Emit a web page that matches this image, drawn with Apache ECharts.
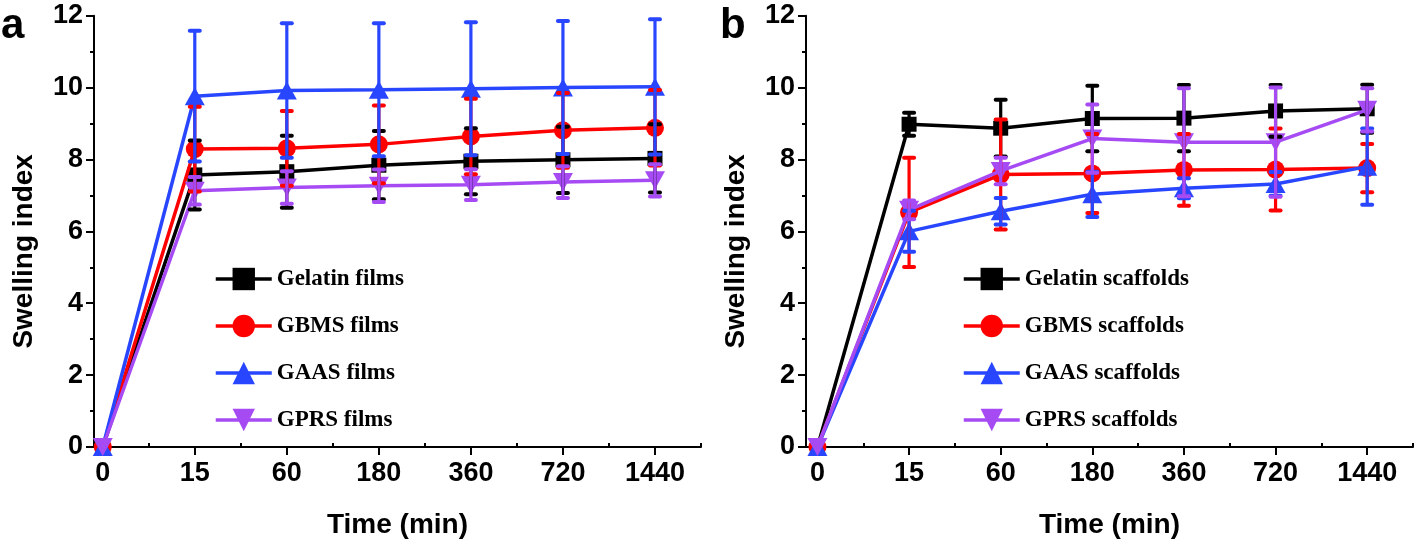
<!DOCTYPE html>
<html>
<head>
<meta charset="utf-8">
<script src="https://cdn.jsdelivr.net/npm/echarts@6/dist/echarts.min.js"></script>
<style>
html,body{margin:0;padding:0;background:#fff;}
#chart{width:1418px;height:544px;}
</style>
</head>
<body>
<div id="chart"></div>
<script>
// ---- data ----
const times = ['0', '15', '60', '180', '360', '720', '1440'];
const yTicks = [0, 2, 4, 6, 8, 10, 12];

const filmNames = ['Gelatin films', 'GBMS films', 'GAAS films', 'GPRS films'];
const gelatinFilms    = [0, 7.57, 7.66, 7.84, 7.95, 7.99, 8.03];
const gelatinFilmsErr = [0, 0.96, 1.00, 0.95, 0.92, 0.92, 0.95];
const gbmsFilms       = [0, 8.29, 8.31, 8.42, 8.64, 8.81, 8.88];
const gbmsFilmsErr    = [0, 1.18, 1.04, 1.08, 1.05, 1.04, 1.05];
const gaasFilms       = [0, 9.76, 9.92, 9.94, 9.97, 10.00, 10.02];
const gaasFilmsErr    = [0, 1.82, 1.87, 1.85, 1.85, 1.85, 1.88];
const gprsFilms       = [0, 7.13, 7.22, 7.27, 7.30, 7.37, 7.42];
const gprsFilmsErr    = [0, 0.38, 0.45, 0.45, 0.43, 0.44, 0.45];

const scaffoldNames = ['Gelatin scaffolds', 'GBMS scaffolds', 'GAAS scaffolds', 'GPRS scaffolds'];
const gelatinScaffolds    = [0, 8.98, 8.87, 9.14, 9.15, 9.35, 9.41];
const gelatinScaffoldsErr = [0, 0.32, 0.79, 0.91, 0.92, 0.72, 0.67];
const gbmsScaffolds       = [0, 6.53, 7.58, 7.61, 7.71, 7.72, 7.76];
const gbmsScaffoldsErr    = [0, 1.52, 1.53, 1.10, 1.00, 1.14, 0.67];
const gaasScaffolds       = [0, 6.00, 6.56, 7.03, 7.20, 7.32, 7.80];
const gaasScaffoldsErr    = [0, 0.57, 0.37, 0.63, 0.28, 0.33, 1.06];
const gprsScaffolds       = [0, 6.60, 7.68, 8.58, 8.48, 8.48, 9.38];
const gprsScaffoldsErr    = [0, 0.26, 0.37, 0.95, 1.50, 1.52, 0.60];

// ---- styling ----
const colors = ['#000000', '#ff0000', '#2846ff', '#a64bf4'];
const symbols = ['rect', 'circle', 'triangle', 'path://M0,0 L2,0 L1,1.8 Z'];
const symbolSizes = [15, 18, [20, 18], [20, 18]];
const SANS = 'Liberation Sans, Arial, sans-serif';
const SERIF = 'Liberation Serif, Times New Roman, serif';

const panels = [
  { names: filmNames, vals: [gelatinFilms, gbmsFilms, gaasFilms, gprsFilms],
    errs: [gelatinFilmsErr, gbmsFilmsErr, gaasFilmsErr, gprsFilmsErr],
    left: 94, xmin: -0.095, legendLeft: 214 },
  { names: scaffoldNames, vals: [gelatinScaffolds, gbmsScaffolds, gaasScaffolds, gprsScaffolds],
    errs: [gelatinScaffoldsErr, gbmsScaffoldsErr, gaasScaffoldsErr, gprsScaffoldsErr],
    left: 806, xmin: -0.125, legendLeft: 962 }
];

const majorX = times.map((t, i) => i);
const minorX = times.map((t, i) => i + 0.5);

const grid = [], xAxis = [], yAxis = [], series = [], legend = [];
panels.forEach((p, g) => {
  grid.push({ left: p.left, top: 15.7, width: 607, height: 434.6 });
  xAxis.push({
    type: 'value', gridIndex: g, min: p.xmin, max: 6.5,
    axisLine: { show: true, onZero: false, lineStyle: { color: '#000', width: 2 } },
    axisTick: { show: true, customValues: majorX, length: 8, lineStyle: { color: '#000', width: 2 } },
    axisLabel: { show: true, customValues: majorX, formatter: v => times[Math.round(v)],
      fontSize: 27, fontWeight: 'bold', fontFamily: SANS, color: '#000', margin: 13 },
    splitLine: { show: false },
    name: 'Time (min)', nameLocation: 'middle', nameGap: 64,
    nameTextStyle: { fontSize: 28, fontWeight: 'bold', fontFamily: SANS, color: '#000' }
  });
  xAxis.push({
    type: 'value', gridIndex: g, min: p.xmin, max: 6.5,
    axisLine: { show: false },
    axisTick: { show: true, customValues: minorX, length: 4, lineStyle: { color: '#000', width: 2 } },
    axisLabel: { show: false },
    splitLine: { show: false }
  });
  yAxis.push({
    type: 'value', gridIndex: g, min: 0, max: 12, interval: 2,
    axisLine: { show: true, onZero: false, lineStyle: { color: '#000', width: 2 } },
    axisTick: { show: true, length: 8, lineStyle: { color: '#000', width: 2 } },
    minorTick: { show: true, splitNumber: 2, length: 4, lineStyle: { color: '#000', width: 2 } },
    axisLabel: { fontSize: 27, fontWeight: 'bold', fontFamily: SANS, color: '#000', margin: 11,
      formatter: v => yTicks.indexOf(v) >= 0 ? String(v) : '' },
    splitLine: { show: false },
    name: 'Swelling index', nameLocation: 'middle', nameGap: 56,
    nameTextStyle: { fontSize: 28, fontWeight: 'bold', fontFamily: SANS, color: '#000',
      padding: [0, 40, 0, 0] }
  });
  legend.push({
    orient: 'vertical', left: p.legendLeft, top: 267.5, itemGap: 24,
    itemWidth: 56, itemHeight: 28, padding: 0,
    lineStyle: { width: 3.5 },
    data: p.names,
    textStyle: { fontSize: 23, fontWeight: 'bold', fontFamily: SERIF, color: '#000' }
  });
  p.names.forEach((name, k) => {
    series.push({
      type: 'line', name: name, xAxisIndex: g * 2, yAxisIndex: g,
      data: times.map((t, i) => [i, p.vals[k][i]]),
      symbol: symbols[k], symbolSize: symbolSizes[k], showSymbol: true,
      lineStyle: { color: colors[k], width: 3.5 },
      itemStyle: { color: colors[k] },
      z: 2 + k * 0.1, clip: false
    });
  });
  [0, 3, 1, 2].forEach(k => {
    const c = colors[k];
    series.push({
      type: 'custom', xAxisIndex: g * 2, yAxisIndex: g, silent: true, z: 4 + k * 0.1,
      data: times.map((t, i) => [i, p.vals[k][i], p.errs[k][i]]),
      encode: { x: 0, y: 1 },
      renderItem: (params, api) => {
        const x = api.value(0), v = api.value(1), e = api.value(2);
        if (!e) return null;
        const top = api.coord([x, v + e]);
        const bot = api.coord([x, v - e]);
        const hw = 5;
        const st = { stroke: c, lineWidth: 3.2 };
        const cap = { stroke: c, lineWidth: 4, lineCap: 'round' };
        return { type: 'group', children: [
          { type: 'line', shape: { x1: top[0], y1: top[1], x2: bot[0], y2: bot[1] }, style: st },
          { type: 'line', shape: { x1: top[0] - hw, y1: top[1], x2: top[0] + hw, y2: top[1] }, style: cap },
          { type: 'line', shape: { x1: bot[0] - hw, y1: bot[1], x2: bot[0] + hw, y2: bot[1] }, style: cap }
        ]};
      }
    });
  });
});

const chart = echarts.init(document.getElementById('chart'), null, { renderer: 'canvas' });
chart.setOption({
  backgroundColor: '#fff',
  animation: false,
  title: [
    { text: 'a', left: 1, top: 5, padding: 0,
      textStyle: { fontSize: 42, fontWeight: 'bold', fontFamily: SANS, color: '#000' } },
    { text: 'b', left: 720, top: 5, padding: 0,
      textStyle: { fontSize: 42, fontWeight: 'bold', fontFamily: SANS, color: '#000' } }
  ],
  grid: grid, xAxis: xAxis, yAxis: yAxis, legend: legend, series: series
});
</script>
</body>
</html>
